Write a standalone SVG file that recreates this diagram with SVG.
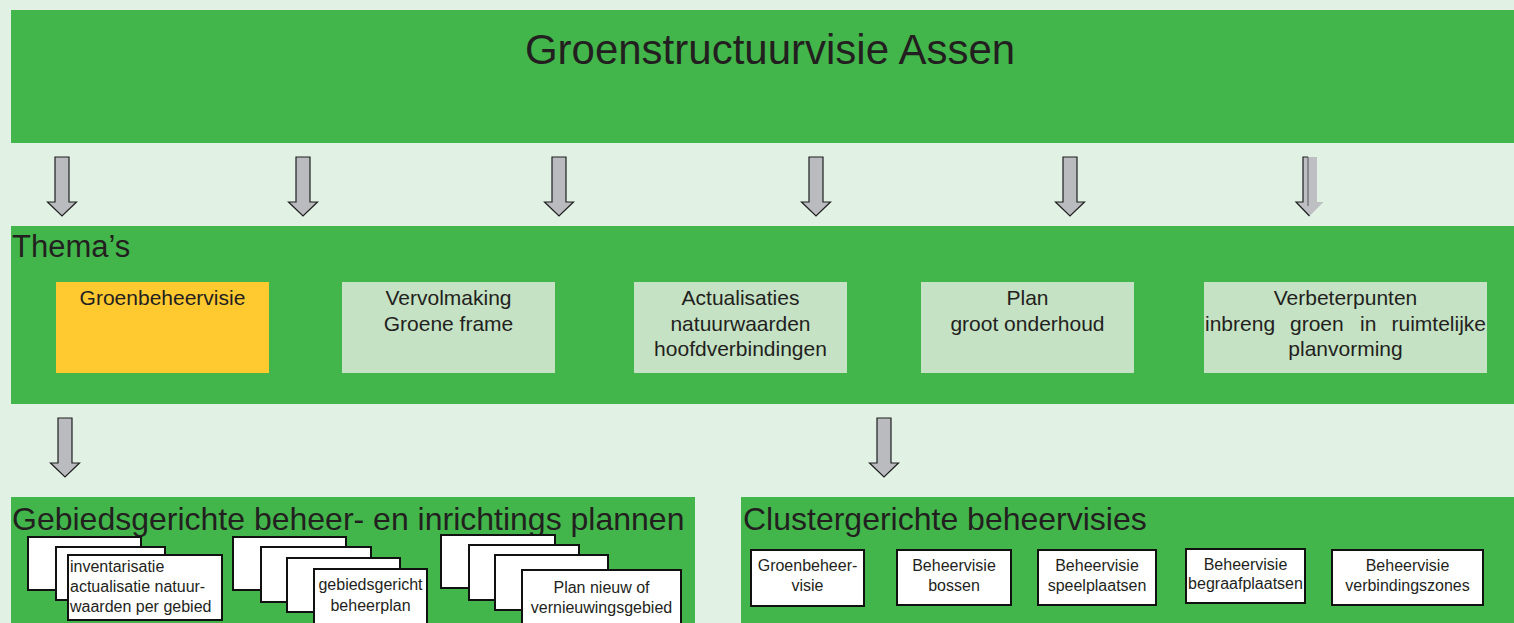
<svg xmlns="http://www.w3.org/2000/svg" width="1514" height="623" viewBox="0 0 1514 623">
<style>
.band{fill:#42B64A}
.t{font-family:"Liberation Sans",Arial,sans-serif;fill:#231F20}
.big{font-size:32px}
.mid{font-size:21px}
.sm{font-size:16px}
.theme{fill:#C5E2C4}
.card{fill:#FFFFFF;stroke:#111;stroke-width:2}
.arr{fill:#B9BBBE;stroke:#1E1E1E;stroke-width:1.2}
</style>
<defs>
<path id="arrow" d="M-7,0 H7 V45 H14.5 L0,59 L-14.5,45 H-7 Z"/>
</defs>
<rect width="1514" height="623" fill="#E1F2E5"/>

<g id="title">
<rect class="band" x="11" y="10" width="1503" height="133"/>
<text class="t" x="770" y="64" font-size="42" text-anchor="middle">Groenstructuurvisie Assen</text>
</g>

<g id="themas">
<rect class="band" x="11" y="226" width="1503" height="178"/>
<text class="t" x="12" y="257" font-size="31">Thema’s</text>
</g>

<g id="theme-groenbeheervisie">
<rect x="56" y="282" width="213" height="91" fill="#FFC930"/>
<text class="t mid" x="162.5" y="305" text-anchor="middle">Groenbeheervisie</text>
</g>
<g id="theme-vervolmaking">
<rect class="theme" x="342" y="282" width="213" height="91"/>
<text class="t mid" text-anchor="middle"><tspan x="448.5" y="305">Vervolmaking</tspan><tspan x="448.5" y="331">Groene frame</tspan></text>
</g>
<g id="theme-actualisaties">
<rect class="theme" x="634" y="282" width="213" height="91"/>
<text class="t mid" text-anchor="middle"><tspan x="740.5" y="305">Actualisaties</tspan><tspan x="740.5" y="331">natuurwaarden</tspan><tspan x="740.5" y="356">hoofdverbindingen</tspan></text>
</g>
<g id="theme-plan">
<rect class="theme" x="921" y="282" width="213" height="91"/>
<text class="t mid" text-anchor="middle"><tspan x="1027.5" y="305">Plan</tspan><tspan x="1027.5" y="331">groot onderhoud</tspan></text>
</g>
<g id="theme-verbeterpunten">
<rect class="theme" x="1204" y="282" width="283" height="91"/>
<text class="t mid" x="1345.5" y="305" text-anchor="middle">Verbeterpunten</text>
<text class="t mid" y="331"><tspan x="1205">inbreng</tspan> <tspan x="1290">groen</tspan> <tspan x="1360">in</tspan></text>
<text class="t mid" x="1486" y="331" text-anchor="end">ruimtelijke</text>
<text class="t mid" x="1345.5" y="356" text-anchor="middle">planvorming</text>
</g>

<g id="gebiedsgericht">
<rect class="band" x="11" y="497" width="684" height="126"/>
<text class="t big" x="12" y="530">Gebiedsgerichte beheer- en inrichtings plannen</text>
</g>
<g id="stack-inventarisatie">
<rect class="card" x="28" y="537" width="113" height="53"/>
<rect class="card" x="56" y="547" width="109" height="53"/>
<rect class="card" x="68" y="555" width="154" height="65"/>
<text class="t sm"><tspan x="70" y="572">inventarisatie</tspan><tspan x="70" y="592">actualisatie natuur-</tspan><tspan x="70" y="612">waarden per gebied</tspan></text>
</g>
<g id="stack-gebiedsgericht">
<rect class="card" x="233" y="537" width="113" height="53"/>
<rect class="card" x="261" y="547" width="110" height="55"/>
<rect class="card" x="287" y="558" width="113" height="54"/>
<rect class="card" x="314" y="569" width="113" height="60"/>
<text class="t sm" text-anchor="middle"><tspan x="370.5" y="590">gebiedsgericht</tspan><tspan x="370.5" y="611">beheerplan</tspan></text>
</g>
<g id="stack-plan-nieuw">
<rect class="card" x="441" y="535" width="114" height="53"/>
<rect class="card" x="469" y="545" width="110" height="55"/>
<rect class="card" x="495" y="555" width="113" height="55"/>
<rect class="card" x="522" y="570" width="159" height="59"/>
<text class="t sm" text-anchor="middle"><tspan x="601.5" y="593">Plan nieuw of</tspan><tspan x="601.5" y="613">vernieuwingsgebied</tspan></text>
</g>

<g id="clustergericht">
<rect class="band" x="741" y="497" width="773" height="126"/>
<text class="t big" x="743" y="530">Clustergerichte beheervisies</text>
</g>
<g id="cluster-groenbeheervisie">
<rect class="card" x="751" y="550" width="113" height="56"/>
<text class="t sm" text-anchor="middle"><tspan x="807.5" y="571">Groenbeheer-</tspan><tspan x="807.5" y="591">visie</tspan></text>
</g>
<g id="cluster-bossen">
<rect class="card" x="897" y="550" width="114" height="55"/>
<text class="t sm" text-anchor="middle"><tspan x="954" y="571">Beheervisie</tspan><tspan x="954" y="591">bossen</tspan></text>
</g>
<g id="cluster-speelplaatsen">
<rect class="card" x="1038" y="550" width="118" height="55"/>
<text class="t sm" text-anchor="middle"><tspan x="1097" y="571">Beheervisie</tspan><tspan x="1097" y="591">speelplaatsen</tspan></text>
</g>
<g id="cluster-begraafplaatsen">
<rect class="card" x="1186" y="549" width="119" height="54"/>
<text class="t sm" text-anchor="middle"><tspan x="1245.5" y="570">Beheervisie</tspan><tspan x="1245.5" y="589">begraafplaatsen</tspan></text>
</g>
<g id="cluster-verbindingszones">
<rect class="card" x="1332" y="550" width="151" height="55"/>
<text class="t sm" text-anchor="middle"><tspan x="1407.5" y="571">Beheervisie</tspan><tspan x="1407.5" y="591">verbindingszones</tspan></text>
</g>

<g id="connectors">
<use href="#arrow" class="arr" transform="translate(62,157)"/>
<use href="#arrow" class="arr" transform="translate(303,157)"/>
<use href="#arrow" class="arr" transform="translate(559,157)"/>
<use href="#arrow" class="arr" transform="translate(816,157)"/>
<use href="#arrow" class="arr" transform="translate(1070,157)"/>
<g>
<path d="M1303,157 H1317 V202 H1323.5 L1309.5,216 L1296,202 H1303 Z" fill="#BDBFC2"/>
<path d="M1308,157 H1303 V202 H1296 L1309.5,216" fill="none" stroke="#1E1E1E" stroke-width="1.2"/>
<path d="M1308,157 V206" fill="none" stroke="#555" stroke-width="1"/>
</g>
<use href="#arrow" class="arr" transform="translate(65,418)"/>
<use href="#arrow" class="arr" transform="translate(884,418)"/>
</g>
</svg>
